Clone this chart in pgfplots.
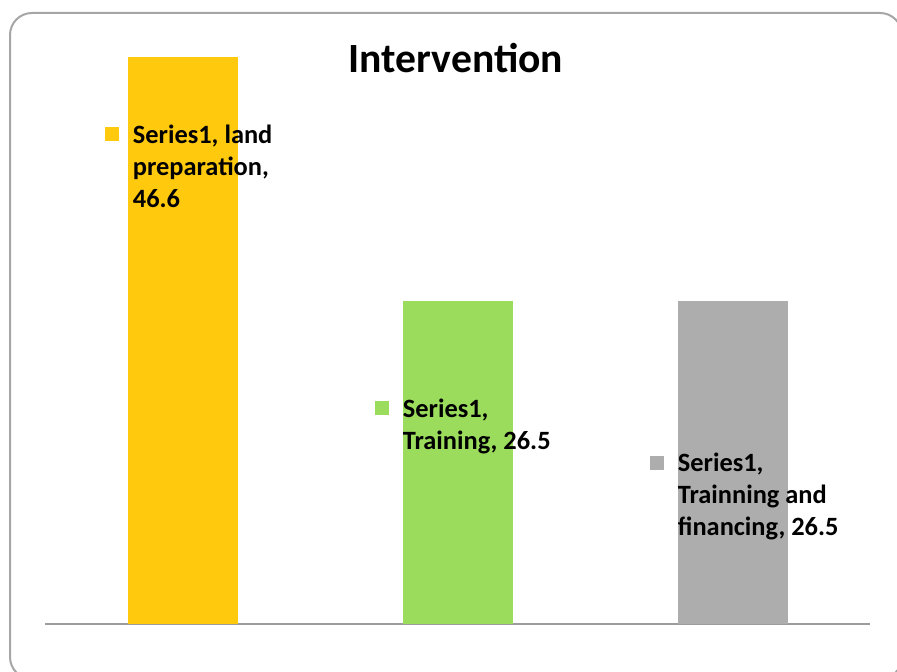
\documentclass[border=0pt]{standalone}
\usepackage{fontspec}
\setmainfont{Carlito}
\usepackage{pgfplots}
\pgfplotsset{compat=1.18}

\definecolor{barGold}{HTML}{FFC90E}
\definecolor{barGreen}{HTML}{9BDC5C}
\definecolor{barGrey}{HTML}{ADADAD}
\definecolor{frameGrey}{HTML}{A6A6A6}
\definecolor{axisGrey}{HTML}{9C9C9C}

\newcommand{\lblfont}{\fontsize{13.2pt}{16pt}\selectfont\bfseries}

\begin{document}
\begin{tikzpicture}
\useasboundingbox (0,0) rectangle (448.5pt,336pt);
% rounded chart frame, partly outside the page
\begin{scope}
  \clip (0,0) rectangle (448.5pt,336pt);
  \draw[frameGrey, line width=1pt, rounded corners=11pt]
    (5pt,329.5pt) rectangle (451pt,-3.5pt);
\end{scope}

\node[font=\fontsize{20.8pt}{24pt}\selectfont\bfseries, anchor=base, inner sep=0pt]
  at (228pt,299.5pt) {Intervention};

\begin{axis}[
  at={(22.5pt,24pt)}, anchor=south west,
  scale only axis, width=412.5pt, height=304.25pt,
  xmin=-0.5, xmax=2.5, ymin=0, ymax=50,
  axis x line*=bottom, axis y line=none,
  x axis line style={axisGrey, line width=1pt},
  xtick=\empty, ytick=\empty,
  ybar, bar width=55pt, bar shift=0pt,
  clip=false,
]
\addplot[fill=barGold, draw=none] coordinates {(0,46.6)};
\addplot[fill=barGreen, draw=none] coordinates {(1,26.5)};
\addplot[fill=barGrey, draw=none] coordinates {(2,26.5)};

\node[anchor=base west, inner sep=0pt, font=\lblfont] (l1) at (axis cs:-0.1818,39.52)
  {\begin{tabular}[t]{@{}l@{}}Series1, land\\preparation,\\46.6\end{tabular}};
\node[anchor=base west, inner sep=0pt, font=\lblfont] (l2) at (axis cs:0.8,17.0)
  {\begin{tabular}[t]{@{}l@{}}Series1,\\Training, 26.5\end{tabular}};
\node[anchor=base west, inner sep=0pt, font=\lblfont] (l3) at (axis cs:1.8,12.49)
  {\begin{tabular}[t]{@{}l@{}}Series1,\\Trainning and\\financing, 26.5\end{tabular}};

\fill[barGold] ([shift={(-14pt,1pt)}]l1.base west) rectangle ++(7pt,7pt);
\fill[barGreen] ([shift={(-14pt,1pt)}]l2.base west) rectangle ++(7pt,7pt);
\fill[barGrey] ([shift={(-14pt,1pt)}]l3.base west) rectangle ++(7pt,7pt);
\end{axis}
\end{tikzpicture}
\end{document}
